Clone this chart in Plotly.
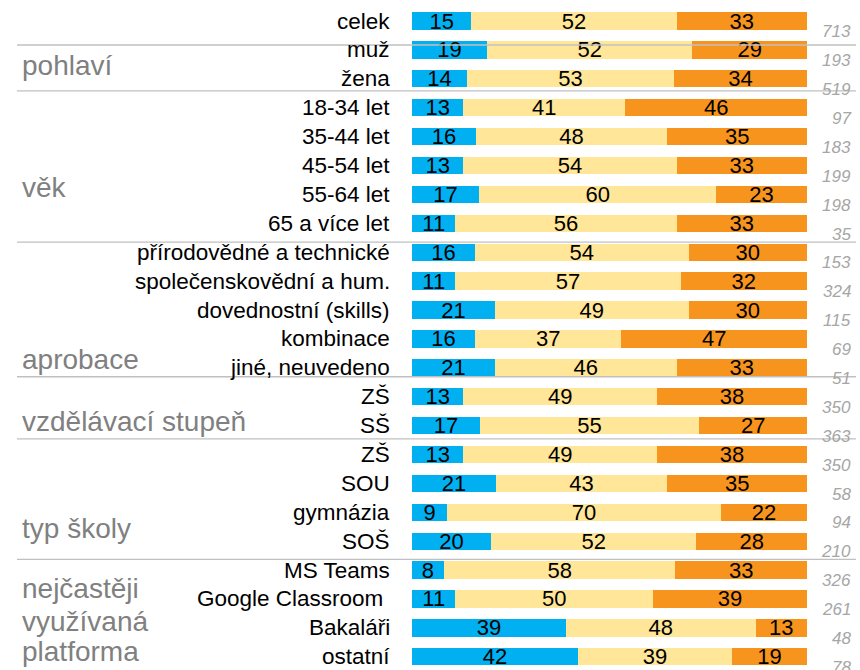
import plotly.graph_objects as go

# Row labels, top to bottom
categories = [
    "celek", "muž", "žena",
    "18-34 let", "35-44 let", "45-54 let", "55-64 let", "65 a více let",
    "přírodovědné a technické", "společenskovědní a hum.", "dovednostní (skills)",
    "kombinace", "jiné, neuvedeno",
    "ZŠ", "SŠ",
    "ZŠ", "SOU", "gymnázia", "SOŠ",
    "MS Teams", "Google Classroom ", "Bakaláři", "ostatní",
]

# Shares of answers (%) per row
blue_vals = [15, 19, 14, 13, 16, 13, 17, 11, 16, 11, 21, 16, 21, 13, 17, 13, 21, 9, 20, 8, 11, 39, 42]
yellow_vals = [52, 52, 53, 41, 48, 54, 60, 56, 54, 57, 49, 37, 46, 49, 55, 49, 43, 70, 52, 58, 50, 48, 39]
orange_vals = [33, 29, 34, 46, 35, 33, 23, 33, 30, 32, 30, 47, 33, 38, 27, 38, 35, 22, 28, 33, 39, 13, 19]

# Number of respondents per row
counts = [713, 193, 519, 97, 183, 199, 198, 35, 153, 324, 115, 69, 51,
          350, 363, 350, 58, 94, 210, 326, 261, 48, 78]

# Group headings: (text line, row position of its centre)
groups = [
    ("pohlaví", 1.55),
    ("věk", 5.76),
    ("aprobace", 11.7),
    ("vzdělávací stupeň", 13.85),
    ("typ školy", 17.55),
    ("nejčastěji", 19.65),
    ("využívaná", 20.78),
    ("platforma", 21.82),
]

# Separator lines between groups (row positions)
separators = [0.83, 2.42, 7.65, 12.31, 14.46, 18.63]

FONT = "Liberation Sans, Arial, sans-serif"
rows = list(range(len(categories)))

fig = go.Figure()
for vals, color in [(blue_vals, "#00b0f0"), (yellow_vals, "#ffe699"), (orange_vals, "#f7941d")]:
    fig.add_trace(go.Bar(
        y=rows, x=vals, orientation="h",
        marker=dict(color=color, line=dict(width=0)),
        width=0.6,
        text=[str(v) for v in vals],
        textposition="inside",
        insidetextanchor="middle",
        textangle=0,
        constraintext="none",
        textfont=dict(family=FONT, size=22, color="black"),
        hoverinfo="skip",
    ))

annotations = []
for i, lab in enumerate(categories):
    annotations.append(dict(
        x=0, y=i, xref="x", yref="y", text=lab, showarrow=False,
        xanchor="right", yanchor="middle", xshift=-20,
        font=dict(family=FONT, size=22.5, color="black"),
    ))
    annotations.append(dict(
        x=1, y=i + 0.37, xref="paper", yref="y", text=f"<i>{counts[i]}</i>",
        showarrow=False, xanchor="right", yanchor="middle", xshift=46,
        font=dict(family=FONT, size=17, color="#a6a6a6"),
    ))
for txt, ypos in groups:
    annotations.append(dict(
        x=-1.0, y=ypos, xref="paper", yref="y", text=txt, showarrow=False,
        xanchor="left", yanchor="middle", xshift=3, align="left",
        font=dict(family=FONT, size=28, color="#808080"),
    ))

shapes = [
    dict(type="line", xref="paper", yref="y", x0=-1.0, x1=1.124, y0=s, y1=s,
         line=dict(color="#c0c0c0", width=1.3), layer="above")
    for s in separators
]

fig.update_layout(
    width=860, height=670,
    margin=dict(l=412, r=53, t=0, b=0),
    barmode="stack", barnorm="percent",
    plot_bgcolor="white", paper_bgcolor="white",
    showlegend=False,
    xaxis=dict(range=[0, 100], visible=False, fixedrange=True),
    yaxis=dict(range=[22.457, -0.727], visible=False, fixedrange=True),
    annotations=annotations,
    shapes=shapes,
)

fig.write_html("out.html")
